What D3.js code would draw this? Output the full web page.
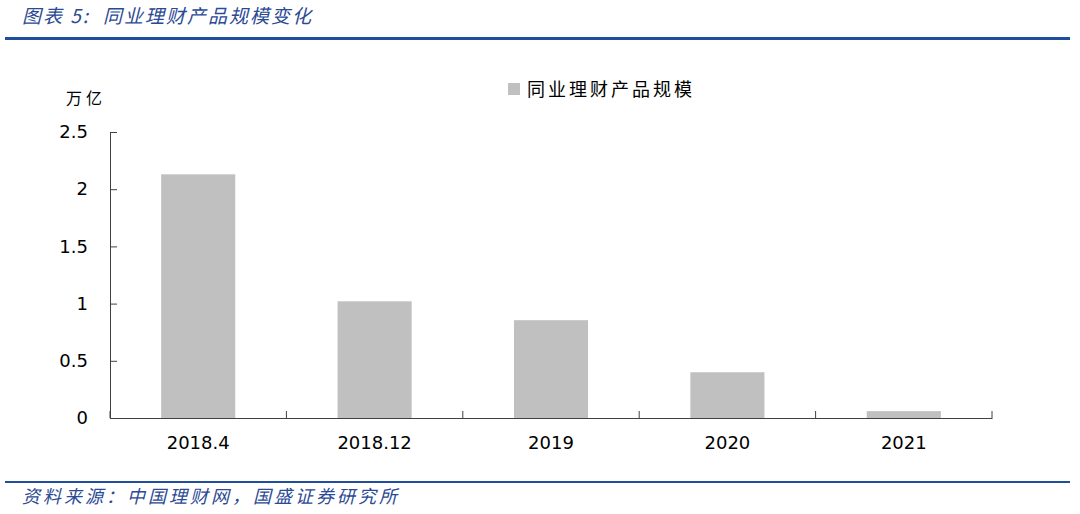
<!DOCTYPE html>
<html><head><meta charset="utf-8">
<script src="https://cdn.jsdelivr.net/npm/d3@7"></script>
<style>body{margin:0;background:#fff}svg{display:block}</style>
</head><body>
<script>
const categories = ["2018.4","2018.12","2019","2020","2021"];
const values = [2.13, 1.02, 0.855, 0.40, 0.06];
const yTicks = [0, 0.5, 1, 1.5, 2, 2.5];
const seriesName = "同业理财产品规模";
const titlePrefix = "图表 5:";
const titleText = "同业理财产品规模变化";
const sourceText = "资料来源：中国理财网，国盛证券研究所";
const unitText = "万亿";

const W = 1080, H = 514;
const svg = d3.select("body").append("svg").attr("width", W).attr("height", H);
const blue = "#1f4e9c";
const cjk = "'Noto Sans CJK SC', sans-serif";
const num = "'DejaVu Sans', Verdana, sans-serif";

svg.append("text").attr("x", 22).attr("y", 23).text(titlePrefix)
  .attr("font-family", cjk).attr("font-size", 19).attr("font-style", "italic")
  .attr("letter-spacing", 2).attr("fill", "#2b4a94");
svg.append("text").attr("x", 103).attr("y", 23).text(titleText)
  .attr("font-family", cjk).attr("font-size", 19).attr("font-style", "italic")
  .attr("letter-spacing", 2).attr("fill", "#2b4a94");
svg.append("rect").attr("x", 5).attr("y", 37).attr("width", 1065).attr("height", 3).attr("fill", blue);
svg.append("rect").attr("x", 5).attr("y", 481).attr("width", 1065).attr("height", 2).attr("fill", blue);
svg.append("text").attr("x", 22).attr("y", 503).text(sourceText)
  .attr("font-family", cjk).attr("font-size", 18).attr("font-style", "italic")
  .attr("letter-spacing", 3).attr("fill", "#2b4a94");

const x = d3.scaleBand().domain(categories).range([110, 992]).paddingInner(0.58).paddingOuter(0.29);
const xb = d3.scaleBand().domain(categories).range([110, 992]);
const y = d3.scaleLinear().domain([0, 2.5]).range([418, 132]);

svg.append("g").selectAll("rect").data(values).join("rect")
  .attr("x", (d,i) => x(categories[i])).attr("width", x.bandwidth())
  .attr("y", d => y(d)).attr("height", d => y(0) - y(d))
  .attr("fill", "#c0c0c0");

const ya = svg.append("g").attr("transform", "translate(110,0)")
  .call(d3.axisLeft(y).tickValues(yTicks).tickSizeInner(-7).tickSizeOuter(0).tickPadding(22).tickFormat(d3.format("~g")));
ya.select(".domain").attr("stroke", "#404040");
ya.selectAll(".tick line").attr("stroke", "#404040");
ya.selectAll("text").attr("font-family", num).attr("font-size", 18).attr("fill", "#000");

const xa = svg.append("g").attr("transform", "translate(0,418)")
  .call(d3.axisBottom(xb).tickSize(0).tickPadding(18));
xa.select(".domain").attr("stroke", "#404040");
xa.selectAll("text").attr("font-family", num).attr("font-size", 18).attr("fill", "#000");
const bounds = categories.map(c => xb(c)).concat([992]);
xa.selectAll(".bt").data(bounds).join("line").attr("class","bt")
  .attr("x1", d => d).attr("x2", d => d).attr("y1", 0).attr("y2", -7).attr("stroke", "#404040");

svg.append("text").attr("x", 66).attr("y", 104).text(unitText)
  .attr("font-family", cjk).attr("font-size", 16).attr("letter-spacing", 4).attr("fill", "#000");

svg.append("rect").attr("x", 508).attr("y", 83).attr("width", 12).attr("height", 12).attr("fill", "#c0c0c0");
svg.append("text").attr("x", 527).attr("y", 96).text(seriesName)
  .attr("font-family", cjk).attr("font-size", 18).attr("letter-spacing", 3).attr("fill", "#000");
</script>
</body></html>
